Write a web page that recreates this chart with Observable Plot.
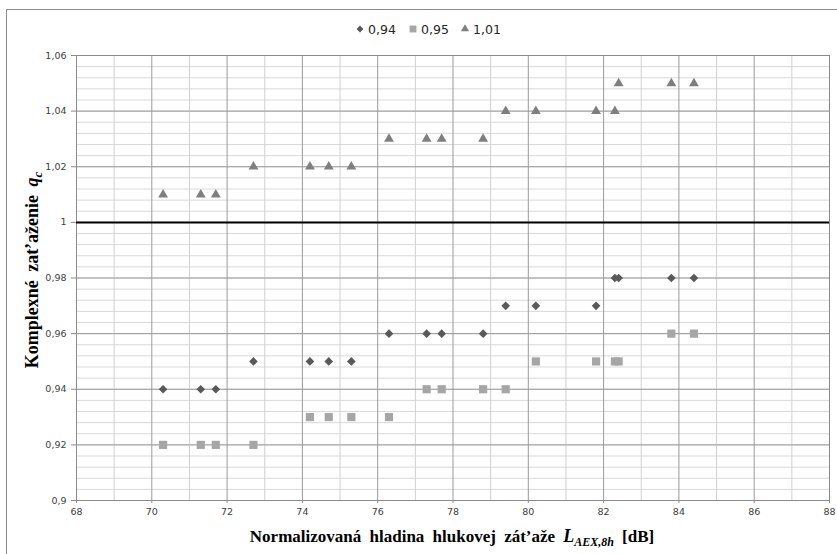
<!DOCTYPE html>
<html>
<head>
<meta charset="utf-8">
<script src="https://cdn.jsdelivr.net/npm/d3@7"></script>
<script src="https://cdn.jsdelivr.net/npm/@observablehq/plot@0.6"></script>
<style>
  html, body { margin: 0; padding: 0; background: #fff; }
  #chart svg { display: block; }
</style>
</head>
<body>
<div id="chart"></div>
<script>
// ---- data ----
const xValues = [70.3, 71.3, 71.7, 72.7, 74.2, 74.7, 75.3, 76.3, 77.3, 77.7, 78.8, 79.4, 80.2, 81.8, 82.3, 82.4, 83.8, 84.4];
const series094 = [0.94, 0.94, 0.94, 0.95, 0.95, 0.95, 0.95, 0.96, 0.96, 0.96, 0.96, 0.97, 0.97, 0.97, 0.98, 0.98, 0.98, 0.98];
const series095 = [0.92, 0.92, 0.92, 0.92, 0.93, 0.93, 0.93, 0.93, 0.94, 0.94, 0.94, 0.94, 0.95, 0.95, 0.95, 0.95, 0.96, 0.96];
const series101 = [1.01, 1.01, 1.01, 1.02, 1.02, 1.02, 1.02, 1.03, 1.03, 1.03, 1.03, 1.04, 1.04, 1.04, 1.04, 1.05, 1.05, 1.05];
const seriesNames = ["0,94", "0,95", "1,01"];
const xTicks = [68, 70, 72, 74, 76, 78, 80, 82, 84, 86, 88];
const xMinorTicks = [69, 71, 73, 75, 77, 79, 81, 83, 85, 87];
const yTicks = [0.9, 0.92, 0.94, 0.96, 0.98, 1, 1.02, 1.04, 1.06];
const yMinorTicks = d3.range(225, 266).map(k => k * 0.004).map(v => +v.toFixed(3));

const fmt = d => String(+d.toFixed(2)).replace(".", ",");
const pts = (ys) => xValues.map((x, i) => ({x, y: ys[i]}));

const colors = {d: "#595959", s: "#a6a6a6", t: "#7f7f7f"};

const plot = Plot.plot({
  width: 837,
  height: 554,
  marginLeft: 76,
  marginRight: 8,
  marginTop: 55,
  marginBottom: 54,
  style: {fontFamily: "DejaVu Sans", fontSize: "9.5px", background: "#fff"},
  x: {domain: [68, 88], axis: null},
  y: {domain: [0.9, 1.06], axis: null},
  marks: [
    Plot.gridY(yMinorTicks, {stroke: "#d9d9d9", strokeOpacity: 1}),
    Plot.gridX(xMinorTicks, {stroke: "#d0d0d0", strokeOpacity: 1}),
    Plot.gridY(yTicks, {stroke: "#9a9a9a", strokeOpacity: 1}),
    Plot.gridX(xTicks, {stroke: "#9a9a9a", strokeOpacity: 1}),
    Plot.frame({stroke: "#8a8a8a"}),
    Plot.ruleY([1], {stroke: "#000", strokeWidth: 2}),
    Plot.axisY(yTicks, {anchor: "left", tickSize: 5, tickPadding: 5, stroke: "#8a8a8a", fill: "#404040", tickFormat: fmt, label: null}),
    Plot.axisX(xTicks, {anchor: "bottom", tickSize: 3, tickPadding: 5, stroke: "#8a8a8a", fill: "#404040", label: null}),
    Plot.dot(pts(series095), {x: "x", y: "y", symbol: "square2", r: 5.2, fill: colors.s, stroke: "none"}),
    Plot.dot(pts(series094), {x: "x", y: "y", symbol: "diamond2", r: 3.9, fill: colors.d, stroke: "none"}),
    Plot.dot(pts(series101), {x: "x", y: "y", symbol: "triangle2", r: 4.7, fill: colors.t, stroke: "none"})
  ]
});

document.getElementById("chart").appendChild(plot);

const svg = d3.select(plot);

// outer chart border (left and top visible)
svg.append("path")
  .attr("d", "M6.5,554V9.5H837")
  .attr("fill", "none")
  .attr("stroke", "#8a8a8a");

// legend
const legendItems = [
  {name: seriesNames[0], sym: d3.symbolDiamond2, size: 30, color: colors.d, x: 360},
  {name: seriesNames[1], sym: d3.symbolSquare2, size: 60, color: colors.s, x: 413},
  {name: seriesNames[2], sym: d3.symbolTriangle2, size: 48, color: colors.t, x: 465}
];
const lg = svg.append("g");
legendItems.forEach(it => {
  lg.append("path")
    .attr("d", d3.symbol(it.sym, it.size)())
    .attr("transform", `translate(${it.x},29)`)
    .attr("fill", it.color);
  lg.append("text")
    .attr("x", it.x + 8)
    .attr("y", 29)
    .attr("dy", "0.36em")
    .style("text-anchor", "start")
    .style("font-family", "DejaVu Sans")
    .style("font-size", "12.5px")
    .style("fill", "#262626")
    .text(it.name);
});

// x-axis title
const xt = svg.append("text")
  .attr("x", 452)
  .attr("y", 542)
  .style("text-anchor", "middle")
  .style("font-family", "Liberation Serif")
  .style("font-weight", "bold")
  .style("font-size", "17px")
  .style("fill", "#000")
  .style("word-spacing", "4px");
xt.append("tspan").text("Normalizovaná hladina hlukovej zát’aže ");
xt.append("tspan").style("font-style", "italic").style("font-size", "18px").text("L");
xt.append("tspan").style("font-style", "italic").style("font-size", "12px").attr("dy", 4).text("AEX,8h");
xt.append("tspan").attr("dy", -4).attr("dx", 8).text("[dB]");

// y-axis title
const yt = svg.append("text")
  .attr("transform", "translate(38,270) rotate(-90)")
  .style("text-anchor", "middle")
  .style("font-family", "Liberation Serif")
  .style("font-weight", "bold")
  .style("font-size", "18px")
  .style("fill", "#000")
  .style("word-spacing", "4px");
yt.append("tspan").text("Komplexné zat’aženie ");
yt.append("tspan").style("font-style", "italic").text("q");
yt.append("tspan").style("font-style", "italic").style("font-size", "13px").attr("dy", 4).text("c");
</script>
</body>
</html>
